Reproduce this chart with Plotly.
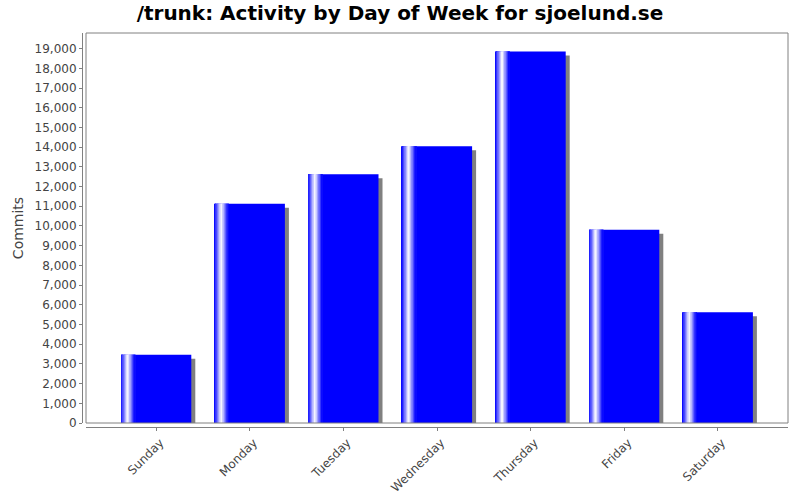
import plotly.graph_objects as go

# ---- data ----
days = ["Sunday", "Monday", "Tuesday", "Wednesday", "Thursday", "Friday", "Saturday"]
commits = [3470, 11130, 12630, 14040, 18850, 9810, 5620]
y_tick_step = 1000

# ---- geometry (pixels) ----
W, H = 800, 500
ML, MR, MT, MB = 82, 12, 33, 73
AXIS_OFFSET = 4
plot_w = W - ML - MR
plot_h = H - MT - MB
data_w = plot_w - AXIS_OFFSET
data_h = plot_h - AXIS_OFFSET

ymax = max(commits) * 1.05
xr = [-0.75, len(days) - 0.25]
bar_w = 0.75
px_per_cat = data_w / (xr[1] - xr[0])
px_per_val = data_h / ymax
shadow_dx = 4 / px_per_cat
shadow_dy = 4 / px_per_val

BLUE = (0, 0, 255)
WHITE = (255, 255, 255)

fig = go.Figure()

# shadow
fig.add_trace(go.Bar(
    x=days, y=commits, base=[-shadow_dy] * len(days),
    offset=-bar_w / 2 + shadow_dx, width=bar_w,
    marker=dict(color="#808080", line=dict(width=0)),
    hoverinfo="skip", showlegend=False))

# main bar
fig.add_trace(go.Bar(
    x=days, y=commits, offset=-bar_w / 2, width=bar_w,
    marker=dict(color="rgb(0,0,255)", line=dict(width=0)),
    showlegend=False))

# gradient highlight strips (0-10%: blue->white, 10-20%: white->blue)
n = 24
for i in range(n):
    f0 = 0.20 * i / n
    fc = 0.20 * (i + 0.5) / n
    t = fc / 0.10 if fc <= 0.10 else (0.20 - fc) / 0.10
    c = tuple(round(BLUE[k] + (WHITE[k] - BLUE[k]) * t) for k in range(3))
    fig.add_trace(go.Bar(
        x=days, y=commits,
        offset=-bar_w / 2 + bar_w * f0, width=bar_w * 0.20 / n * 1.15,
        marker=dict(color="rgb(%d,%d,%d)" % c, line=dict(width=0)),
        hoverinfo="skip", showlegend=False))

GRAY_TXT = "#444444"
fig.update_layout(
    width=W, height=H,
    margin=dict(l=ML, r=MR, t=MT, b=MB, autoexpand=False),
    barmode="overlay",
    paper_bgcolor="white", plot_bgcolor="white",
    font=dict(family="DejaVu Sans", color=GRAY_TXT),
    title=dict(text="<b>/trunk: Activity by Day of Week for sjoelund.se</b>",
               x=0.5, xref="container", xanchor="center",
               y=1 - 13 / H, yref="container", yanchor="middle",
               font=dict(family="DejaVu Sans", size=20, color="black")),
    xaxis=dict(domain=[AXIS_OFFSET / plot_w, 1], anchor="free", position=0,
               range=xr, showline=True, linecolor="#808080", linewidth=1,
               ticks="outside", ticklen=3, tickcolor="#808080",
               tickangle=-45, tickfont=dict(size=12, color=GRAY_TXT),
               ticklabelshift=4,
               showgrid=False, zeroline=False, fixedrange=True, automargin=False),
    yaxis=dict(domain=[AXIS_OFFSET / plot_h, 1], anchor="free", position=0,
               range=[0, ymax], dtick=y_tick_step, tickformat=",d",
               showline=True, linecolor="#808080", linewidth=1,
               ticks="outside", ticklen=3, tickcolor="#808080",
               tickfont=dict(size=12, color=GRAY_TXT),
               title=dict(text="Commits", font=dict(size=14, color=GRAY_TXT), standoff=6),
               showgrid=False, zeroline=False, fixedrange=True, automargin=False),
    shapes=[dict(type="rect", xref="x domain", yref="y domain",
                 x0=0, x1=1, y0=0, y1=1,
                 line=dict(color="#808080", width=1), fillcolor="rgba(0,0,0,0)",
                 layer="above")],
)

fig.write_html("out.html", config={"displayModeBar": False},
               post_script="document.body.style.margin='0px';document.body.style.padding='0px';")
